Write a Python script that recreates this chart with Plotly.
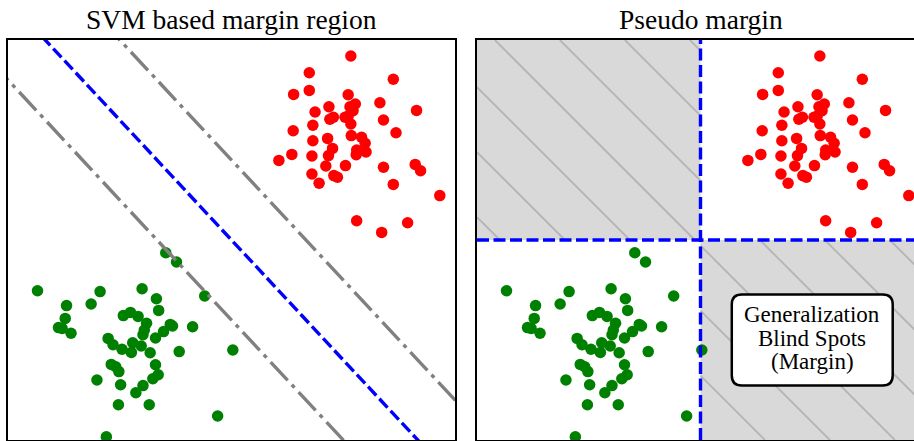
import plotly.graph_objects as go

# ---------------- data ----------------
red_x = [7.67, 6.74, 8.62, 6.39, 6.74, 7.61, 7.77, 7.65, 8.32, 9.14, 7.18, 6.87, 7.72, 7.28, 7.20,
         7.54, 7.61, 7.67, 8.40, 6.82, 8.68, 6.38, 7.15, 7.68, 6.82, 7.91, 7.99, 7.26, 7.80, 8.01,
         7.79, 7.17, 6.35, 6.80, 6.06, 7.11, 7.55, 8.40, 9.11, 9.23, 6.80, 7.29, 7.37, 6.96, 8.62,
         9.66, 7.80, 8.94, 8.36]
red_y = [9.60, 9.18, 9.02, 8.64, 8.74, 8.63, 8.40, 8.33, 8.43, 8.24, 8.33, 8.20, 8.23, 8.07, 8.02,
         8.07, 8.10, 7.90, 8.00, 7.87, 7.68, 7.73, 7.54, 7.61, 7.48, 7.57, 7.42, 7.29, 7.25, 7.20,
         7.13, 7.11, 7.14, 7.10, 6.99, 6.85, 6.86, 6.82, 6.89, 6.73, 6.65, 6.61, 6.57, 6.42, 6.39,
         6.11, 5.48, 5.43, 5.19]

green_x = [3.53, 3.77, 0.66, 2.06, 3.00, 3.32, 4.40, 1.31, 1.86, 3.37, 2.58, 2.74, 2.91, 1.28, 1.13,
           1.21, 1.41, 3.10, 3.05, 3.02, 3.63, 3.68, 3.48, 4.13, 3.30, 2.24, 2.35, 2.55, 2.79, 2.76,
           2.98, 3.18, 3.83, 5.03, 2.31, 2.41, 2.48, 3.30, 3.36, 3.24, 1.99, 2.52, 3.02, 2.86, 2.47,
           3.16, 4.69, 2.20]
green_y = [4.68, 4.45, 3.73, 3.71, 3.78, 3.53, 3.60, 3.36, 3.40, 3.24, 3.11, 3.19, 3.09, 3.04, 2.81,
           2.79, 2.67, 2.92, 2.75, 2.63, 2.89, 2.85, 2.71, 2.83, 2.55, 2.54, 2.38, 2.27, 2.43, 2.19,
           2.35, 2.18, 2.21, 2.25, 1.89, 1.83, 1.71, 1.88, 1.63, 1.53, 1.50, 1.38, 1.36, 1.18, 0.88,
           0.88, 0.60, 0.08]

# SVM boundary  y = intercept + slope * x, margins at +/- offset in intercept
svm_slope = -1.2
svm_intercept = 11.0
svm_margin = 2.0

# pseudo-margin thresholds
thresh_x = 5.0
thresh_y = 5.0

titles = ["SVM based margin region", "Pseudo margin"]
box_lines = ["Generalization", "Blind Spots", "(Margin)"]

# ---------------- geometry / style ----------------
W, H = 914, 441
ML, MR, MT, MB = 8, 0, 40, 1
PANEL_W, GAP = 447, 22
PLOT_W = W - ML - MR
PLOT_H = H - MT - MB
LIM = 10.0
sx = PANEL_W / LIM
sy = PLOT_H / LIM
x2_max = (PLOT_W - PANEL_W - GAP) / sx

RED, GREEN, BLUE, GRAY = "#ff0000", "#008000", "#0000ff", "#808080"
FONT = "Liberation Serif"
MSIZE = 11.5
LW = 3.4

fig = go.Figure()

# gray blind-spot regions (right panel)
regions = [(0, thresh_x, thresh_y, LIM), (thresh_x, LIM, 0, thresh_y)]
for (x0, x1, y0, y1) in regions:
    fig.add_shape(type="rect", xref="x2", yref="y2", x0=x0, x1=x1, y0=y0, y1=y1,
                  fillcolor="#d9d9d9", line=dict(width=0), layer="below")

# hatch lines (45 deg on screen)
k = sx / sy
db = k * 65 / sx
b0 = LIM + k * 0.4
hx, hy = [], []
for m in range(-25, 25):
    b = b0 + m * db
    for (x0, x1, y0, y1) in regions:
        xa = max(x0, (b - y1) / k)
        xb = min(x1, (b - y0) / k)
        if xa < xb:
            hx += [xa, xb, None]
            hy += [b - k * xa, b - k * xb, None]
fig.add_trace(go.Scatter(x=hx, y=hy, mode="lines", xaxis="x2", yaxis="y2",
                         line=dict(color="#b5b5b5", width=1.8), hoverinfo="skip", showlegend=False))

# points in both panels
for xa, ya in (("x", "y"), ("x2", "y2")):
    fig.add_trace(go.Scatter(x=red_x, y=red_y, mode="markers", xaxis=xa, yaxis=ya,
                             marker=dict(color=RED, size=MSIZE, line=dict(width=0)), showlegend=False))
    fig.add_trace(go.Scatter(x=green_x, y=green_y, mode="markers", xaxis=xa, yaxis=ya,
                             marker=dict(color=GREEN, size=MSIZE, line=dict(width=0)), showlegend=False))

# SVM lines (left panel)
xs = [-1.0, LIM + 1.0]
for off, color, dash in ((-svm_margin, GRAY, "25px,6px,4px,6px"),
                         (svm_margin, GRAY, "25px,6px,4px,6px"),
                         (0.0, BLUE, "12px,4.5px")):
    ys = [svm_intercept + off + svm_slope * x for x in xs]
    fig.add_trace(go.Scatter(x=xs, y=ys, mode="lines", xaxis="x", yaxis="y",
                             line=dict(color=color, width=LW, dash=dash), showlegend=False))

# pseudo margin lines (right panel)
fig.add_trace(go.Scatter(x=[thresh_x, thresh_x], y=[0, LIM], mode="lines", xaxis="x2", yaxis="y2",
                         line=dict(color=BLUE, width=LW, dash="12px,4.5px"), showlegend=False))
fig.add_trace(go.Scatter(x=[0, LIM], y=[thresh_y, thresh_y], mode="lines", xaxis="x2", yaxis="y2",
                         line=dict(color=BLUE, width=LW, dash="12px,4.5px"), showlegend=False))

# rounded text box in the bottom-right blind spot
cx, cy = (thresh_x + LIM) / 2, thresh_y / 2
hw, hh = 1.8, 1.14
rx, ry = 10 / sx, 10 / sy
xl, xr, yb, yt = cx - hw, cx + hw, cy - hh, cy + hh
path = (f"M{xl + rx},{yt} L{xr - rx},{yt} Q{xr},{yt} {xr},{yt - ry} "
        f"L{xr},{yb + ry} Q{xr},{yb} {xr - rx},{yb} L{xl + rx},{yb} Q{xl},{yb} {xl},{yb + ry} "
        f"L{xl},{yt - ry} Q{xl},{yt} {xl + rx},{yt} Z")
fig.add_shape(type="path", path=path, xref="x2", yref="y2", fillcolor="white",
              line=dict(color="black", width=2.5), layer="above")
line_step = 0.59
for i, t in enumerate(box_lines):
    fig.add_annotation(text=t, xref="x2", yref="y2", x=cx, y=cy + 0.05 + (1 - i) * line_step,
                       showarrow=False, xanchor="center", yanchor="middle",
                       font=dict(family=FONT, size=23, color="black"))

# titles
for xr_, t in (("x", titles[0]), ("x2", titles[1])):
    fig.add_annotation(text=t, xref=xr_, yref="paper", x=LIM / 2, y=1, yshift=3,
                       showarrow=False, xanchor="center", yanchor="bottom",
                       font=dict(family=FONT, size=27.5, color="black"))

ax_common = dict(showgrid=False, zeroline=False, showticklabels=False, ticks="",
                 showline=True, linecolor="black", linewidth=2)
fig.update_layout(
    width=W, height=H,
    margin=dict(l=ML, r=MR, t=MT, b=MB),
    paper_bgcolor="white", plot_bgcolor="white",
    showlegend=False,
    xaxis=dict(domain=[0, PANEL_W / PLOT_W], range=[0, LIM], mirror=True, **ax_common),
    yaxis=dict(range=[0, LIM], mirror=True, **ax_common),
    xaxis2=dict(domain=[(PANEL_W + GAP) / PLOT_W, 1], range=[0, x2_max], anchor="y2",
                mirror=True, **ax_common),
    yaxis2=dict(range=[0, LIM], anchor="x2", mirror=False, **ax_common),
)

fig.write_html("out.html")
